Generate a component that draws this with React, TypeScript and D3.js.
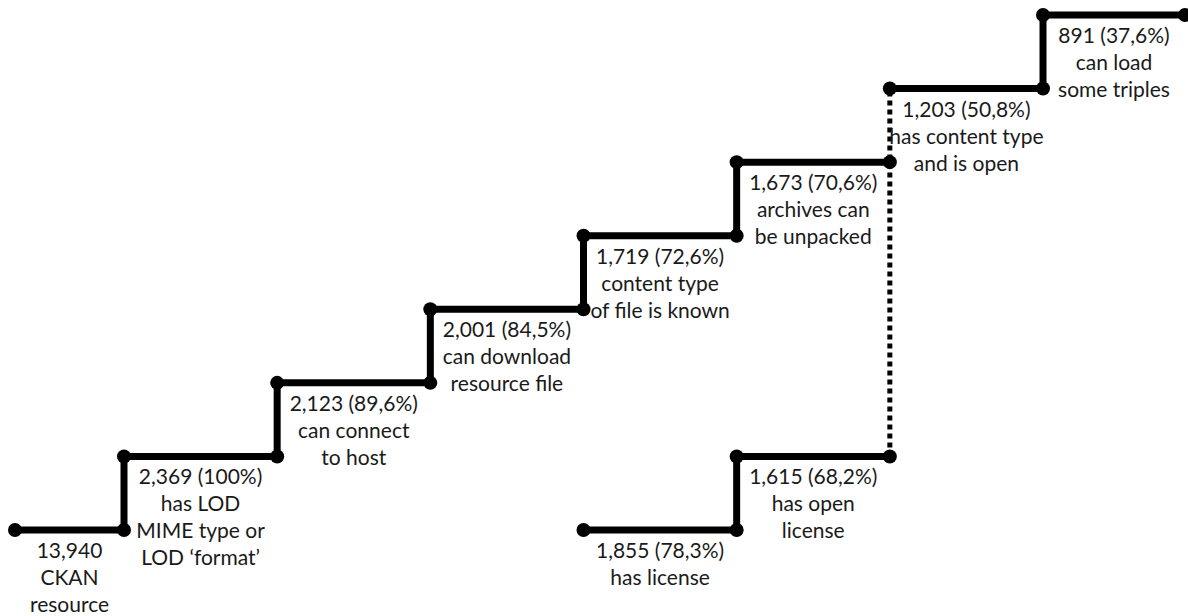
import React, { Component } from 'react';
import * as d3 from "d3";

// main funnel: one step per filter stage
const stepCounts = [13940, 2369, 2123, 2001, 1719, 1673, 1203, 891];
const stepShares = [null, 100, 89.6, 84.5, 72.6, 70.6, 50.8, 37.6];
const stepLabels = [
  ["CKAN", "resource"],
  ["has LOD", "MIME type or", "LOD \u2018format\u2019"],
  ["can connect", "to host"],
  ["can download", "resource file"],
  ["content type", "of file is known"],
  ["archives can", "be unpacked"],
  ["has content type", "and is open"],
  ["can load", "some triples"],
];

// license branch, joins the main steps at "has content type and is open"
const licenseCounts = [1855, 1615];
const licenseShares = [78.3, 68.2];
const licenseLabels = [["has license"], ["has open", "license"]];
const licenseStart = 4;
const mergeStep = 6;

const width = 1188;
const height = 616;

class App extends Component {
  ref = React.createRef<SVGSVGElement>();

  componentDidMount = () => {
    document.body.style.margin = "0";
    const svg = d3.select(this.ref.current);
    svg.selectAll("*").remove();

    const nSteps = stepCounts.length;

    // boundaries between steps; the first and last ones run to the edges
    const xInner = d3.scaleLinear().domain([1, nSteps - 1]).range([124, 1043]);
    const x = (b: number) => (b <= 0 ? 15 : b >= nSteps ? width - 3 : xInner(b));
    const y = d3.scaleLinear().domain([0, nSteps - 1]).range([530, 15]);

    const loc = d3.formatLocale({ decimal: ",", thousands: ",", grouping: [3], currency: ["", ""] });
    const fmtCount = loc.format(",");
    const fmtShare = (v: number) => (v === 100 ? "100%" : loc.format(".1f")(v) + "%");

    const line = d3.line<[number, number]>().x(d => x(d[0])).y(d => y(d[1]));

    // points [boundary, level] for a run of steps
    const run = (from: number, to: number, offset: number) => {
      const pts: [number, number][] = [];
      for (let k = from; k <= to; k++) {
        pts.push([k + offset, k]);
        pts.push([k + offset + 1, k]);
      }
      return pts;
    };

    const solidRuns = [
      run(0, mergeStep - 1, 0),
      run(mergeStep, nSteps - 1, 0),
      run(0, licenseCounts.length - 1, licenseStart),
    ];

    const g = svg.append("g");

    // dashed connector from the license branch up to the merge step
    const joinB = licenseStart + licenseCounts.length;
    g.append("path")
      .attr("d", line([[joinB, licenseCounts.length - 1], [joinB, mergeStep]]))
      .attr("fill", "none")
      .attr("stroke", "black")
      .attr("stroke-width", 5)
      .attr("stroke-dasharray", "5,4");

    g.selectAll("path.step")
      .data(solidRuns)
      .enter()
      .append("path")
      .attr("class", "step")
      .attr("d", d => line(d))
      .attr("fill", "none")
      .attr("stroke", "black")
      .attr("stroke-width", 7)
      .attr("stroke-linejoin", "round");

    g.selectAll("circle")
      .data(solidRuns.flat())
      .enter()
      .append("circle")
      .attr("cx", d => x(d[0]))
      .attr("cy", d => y(d[1]))
      .attr("r", 7)
      .attr("fill", "black");

    const labels = [
      ...stepCounts.map((c, k) => ({
        b: k,
        level: k,
        lines: [stepShares[k] == null ? fmtCount(c) : fmtCount(c) + " (" + fmtShare(stepShares[k] as number) + ")", ...stepLabels[k]],
      })),
      ...licenseCounts.map((c, j) => ({
        b: licenseStart + j,
        level: j,
        lines: [fmtCount(c) + " (" + fmtShare(licenseShares[j]) + ")", ...licenseLabels[j]],
      })),
    ];

    const lineH = 27;
    const text = g.selectAll("text")
      .data(labels)
      .enter()
      .append("text")
      .attr("text-anchor", "middle")
      .attr("font-family", "Lato, 'Open Sans', sans-serif")
      .attr("font-size", 21)
      .attr("fill", "#1a1a1a")
      .attr("transform", d => "translate(" + (x(d.b) + x(d.b + 1)) / 2 + "," + (y(d.level) + 28) + ")");

    text.selectAll("tspan")
      .data(d => d.lines)
      .enter()
      .append("tspan")
      .attr("x", 0)
      .attr("y", (d, i) => i * lineH)
      .text(d => d);
  }

  render() {
    return (
      <svg ref={this.ref} width={width} height={height} style={{ display: "block" }}></svg>
    );
  }
}

export default App;
